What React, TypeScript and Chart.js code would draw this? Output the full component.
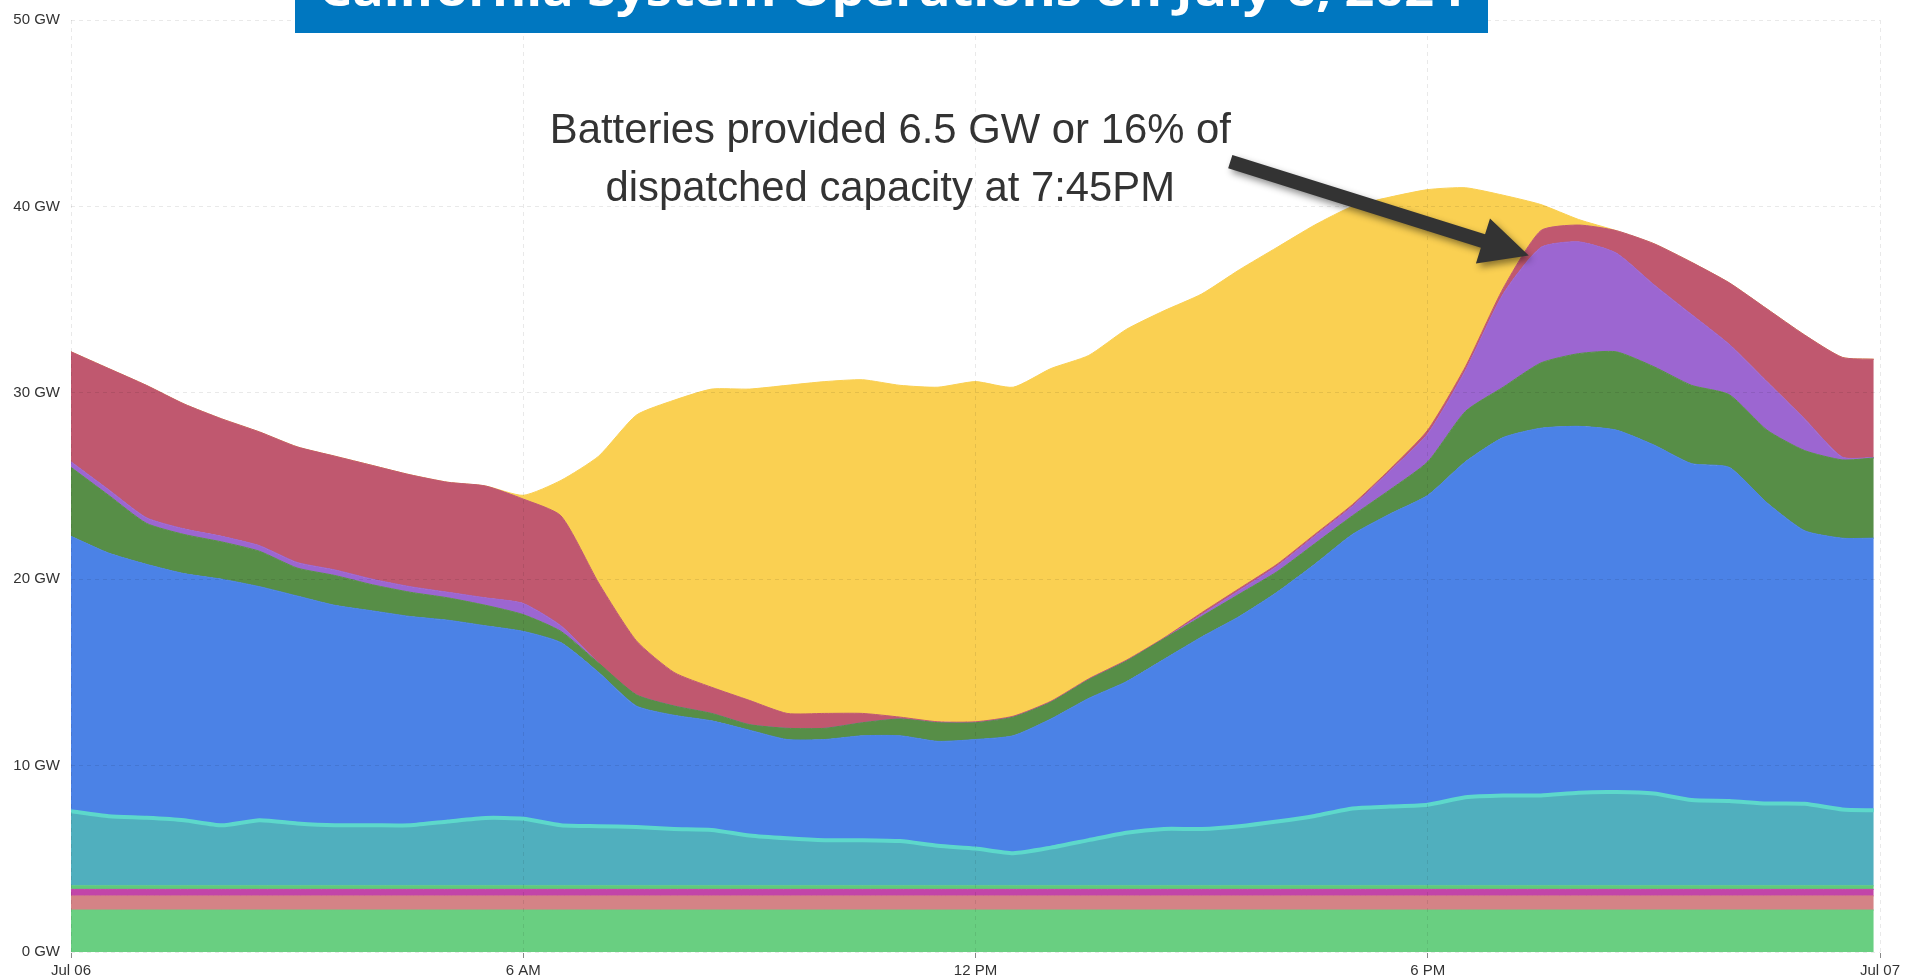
import React, { useEffect, useRef } from "react";
import { Chart, registerables } from "chart.js";

Chart.register(...registerables);

// Hours after midnight, Jul 06 (last sample 23:55)
const TIMES = [
  0, 0.5, 1, 1.5, 2, 2.5, 3, 3.5, 4, 4.5, 5, 5.5, 6, 6.5, 7, 7.5, 8, 8.5, 9, 9.5,
  10, 10.5, 11, 11.5, 12, 12.5, 13, 13.5, 14, 14.5, 15, 15.5, 16, 16.5, 17, 17.5,
  18, 18.5, 19, 19.5, 20, 20.5, 21, 21.5, 22, 22.5, 23, 23.5, 23.917,
];

const X_TICK_LABELS = ["Jul 06", "6 AM", "12 PM", "6 PM", "Jul 07"];
const Y_TICKS = [0, 10, 20, 30, 40, 50];

// GW
const nuclear = [
  2.25, 2.25, 2.25, 2.25, 2.25, 2.25, 2.25, 2.25, 2.25, 2.25, 2.25, 2.25, 2.25, 2.25, 2.25, 2.25, 2.25,
  2.25, 2.25, 2.25, 2.25, 2.25, 2.25, 2.25, 2.25, 2.25, 2.25, 2.25, 2.25, 2.25, 2.25, 2.25, 2.25, 2.25,
  2.25, 2.25, 2.25, 2.25, 2.25, 2.25, 2.25, 2.25, 2.25, 2.25, 2.25, 2.25, 2.25, 2.25, 2.25,
];
const geothermal = [
  0.76, 0.76, 0.76, 0.76, 0.76, 0.76, 0.76, 0.76, 0.76, 0.76, 0.76, 0.76, 0.76, 0.76, 0.76, 0.76, 0.76,
  0.76, 0.76, 0.76, 0.76, 0.76, 0.76, 0.76, 0.76, 0.76, 0.76, 0.76, 0.76, 0.76, 0.76, 0.76, 0.76, 0.76,
  0.76, 0.76, 0.76, 0.76, 0.76, 0.76, 0.76, 0.76, 0.76, 0.76, 0.76, 0.76, 0.76, 0.76, 0.76,
];
const biomass = [
  0.35, 0.35, 0.35, 0.35, 0.35, 0.35, 0.35, 0.35, 0.35, 0.35, 0.35, 0.35, 0.35, 0.35, 0.35, 0.35, 0.35,
  0.35, 0.35, 0.35, 0.35, 0.35, 0.35, 0.35, 0.35, 0.35, 0.35, 0.35, 0.35, 0.35, 0.35, 0.35, 0.35, 0.35,
  0.35, 0.35, 0.35, 0.35, 0.35, 0.35, 0.35, 0.35, 0.35, 0.35, 0.35, 0.35, 0.35, 0.35, 0.35,
];
const biogas = [
  0.19, 0.19, 0.19, 0.19, 0.19, 0.19, 0.19, 0.19, 0.19, 0.19, 0.19, 0.19, 0.19, 0.19, 0.19, 0.19, 0.19,
  0.19, 0.19, 0.19, 0.19, 0.19, 0.19, 0.19, 0.19, 0.19, 0.19, 0.19, 0.19, 0.19, 0.19, 0.19, 0.19, 0.19,
  0.19, 0.19, 0.19, 0.19, 0.19, 0.19, 0.19, 0.19, 0.19, 0.19, 0.19, 0.19, 0.19, 0.19, 0.19,
];
const hydro = [
  4.0, 3.73, 3.65, 3.52, 3.25, 3.52, 3.35, 3.25, 3.25, 3.25, 3.45, 3.64, 3.6, 3.25, 3.2, 3.15, 3.05,
  3.0, 2.7, 2.55, 2.45, 2.45, 2.4, 2.15, 2.0, 1.75, 2.05, 2.45, 2.85, 3.05, 3.05, 3.2, 3.45, 3.75,
  4.15, 4.25, 4.35, 4.75, 4.85, 4.85, 5.0, 5.03, 4.95, 4.6, 4.55, 4.42, 4.4, 4.1, 4.05,
];
const gas = [
  14.75, 14.12, 13.6, 13.23, 13.2, 12.53, 12.2, 11.8, 11.5, 11.2, 10.8, 10.31, 10.05, 9.8, 8.25, 6.5,
  6.1, 5.85, 5.65, 5.3, 5.4, 5.6, 5.65, 5.6, 5.85, 6.3, 6.9, 7.6, 8.1, 9.1, 10.3, 11.25, 12.3, 13.5,
  14.7, 15.7, 16.6, 18.0, 19.2, 19.7, 19.65, 19.42, 18.7, 18.05, 17.9, 16.13, 14.65, 14.55, 14.6,
];
const wind = [
  3.7, 3.1, 2.2, 2.1, 2.0, 1.9, 1.5, 1.6, 1.4, 1.3, 1.2, 1.1, 0.9, 0.6, 0.5, 0.6, 0.5, 0.4, 0.3, 0.6,
  0.6, 0.7, 0.9, 1.0, 0.9, 1.0, 0.9, 1.0, 1.1, 1.1, 1.1, 1.2, 1.1, 1.1, 1.0, 1.3, 1.8, 2.7, 2.7, 3.5,
  3.9, 4.2, 4.2, 4.2, 3.9, 3.9, 4.3, 4.2, 4.3,
];
const batteries = [
  0.3, 0.3, 0.3, 0.3, 0.3, 0.3, 0.3, 0.3, 0.3, 0.3, 0.3, 0.4, 0.6, 0.3, 0, 0, 0, 0, 0, 0, 0, 0, 0, 0,
  0, 0, 0, 0, 0, 0, 0.1, 0.2, 0.3, 0.4, 0.5, 1.0, 1.5, 2.2, 5.0, 6.2, 6.0, 5.3, 4.4, 3.8, 2.7, 2.6,
  1.7, 0.15, 0.03,
];
const imports = [
  5.9, 6.5, 7.1, 6.7, 6.3, 6.1, 6.2, 6.1, 6.1, 6.0, 5.9, 6.0, 5.6, 5.9, 4.3, 2.9, 1.8, 1.4, 1.3, 0.8,
  0.8, 0.5, 0.1, 0.05, 0.05, 0.05, 0.05, 0.05, 0.05, 0.05, 0.1, 0.1, 0.1, 0.1, 0.1, 0.1, 0.2, 0.2,
  0.3, 0.9, 0.9, 1.2, 2.2, 2.8, 3.3, 3.9, 4.5, 5.35, 5.27,
];
const solar = [
  0, 0, 0, 0, 0, 0, 0, 0, 0, 0, 0, 0, 0.2, 1.9, 6.8, 12.1, 14.6, 16.0, 16.7, 17.6, 17.8, 17.9, 17.8,
  17.95, 18.25, 17.65, 17.85, 17.35, 17.75, 17.55, 17.1, 17.1, 17.0, 16.6, 16.0, 14.6, 12.9, 9.6, 5.0,
  1.4, 0.3, 0, 0, 0, 0, 0, 0, 0, 0,
];

const TITLE = "California System Operations on July 6, 2024";
const NOTE_LINES = ["Batteries provided 6.5 GW or 16% of", "dispatched capacity at 7:45PM"];
// annotation anchors in chart units (hour, GW)
const NOTE_CENTER_X = 10.87;
const NOTE_BASELINES_Y = [43.39, 40.27];
const ARROW_FROM = { x: 15.38, y: 42.4 };
const ARROW_TO = { x: 19.34, y: 37.37 };

const SERIES = [
  { label: "Nuclear", values: nuclear, color: "#69CF81", line: "#69CF81", width: 1 },
  { label: "Geothermal", values: geothermal, color: "#D48386", line: "#D48386", width: 1 },
  { label: "Biomass", values: biomass, color: "#C245A8", line: "#C245A8", width: 1 },
  { label: "Biogas", values: biogas, color: "#5FCB7A", line: "#5FCB7A", width: 1 },
  { label: "Hydro", values: hydro, color: "#50AFBE", line: "#5DD8CB", width: 4 },
  { label: "Natural gas", values: gas, color: "#4B82E6", line: "#4B82E6", width: 1 },
  { label: "Wind", values: wind, color: "#578E47", line: "#578E47", width: 1 },
  { label: "Batteries", values: batteries, color: "#9C66D1", line: "#9C66D1", width: 1 },
  { label: "Imports", values: imports, color: "#C0586F", line: "#C0586F", width: 1 },
  { label: "Solar", values: solar, color: "#FAD052", line: "#FAD052", width: 1 },
];

const overlayPlugin = {
  id: "overlay",
  beforeDraw(chart: any) {
    const ctx: CanvasRenderingContext2D = chart.ctx;
    ctx.save();
    ctx.fillStyle = "#ffffff";
    ctx.fillRect(0, 0, chart.width, chart.height);
    ctx.restore();
  },
  afterDraw(chart: any) {
    const ctx: CanvasRenderingContext2D = chart.ctx;
    const xs = chart.scales.x;
    const ys = chart.scales.y;

    // keep the strip above the plot clean
    ctx.save();
    ctx.fillStyle = "#ffffff";
    ctx.fillRect(0, 0, chart.width, 3);
    ctx.restore();

    // Title banner (partly cut off at the top)
    ctx.save();
    const bx = 295, bw = 1193, bh = 33;
    ctx.fillStyle = "#0077C0";
    ctx.fillRect(bx, 0, bw, bh);
    ctx.beginPath();
    ctx.rect(bx, 0, bw, bh);
    ctx.clip();
    ctx.font = '700 44px "Open Sans", "Liberation Sans", sans-serif';
    const tw = ctx.measureText(TITLE).width;
    const tsx = 1145 / tw;
    ctx.translate(bx + bw / 2, 0);
    ctx.scale(tsx, 1);
    ctx.fillStyle = "#ffffff";
    ctx.textAlign = "center";
    ctx.textBaseline = "alphabetic";
    ctx.fillText(TITLE, 0, 6);
    ctx.restore();

    // Annotation text
    ctx.save();
    ctx.font = '43px "Liberation Sans Narrow", "Liberation Sans", sans-serif';
    ctx.fillStyle = "#333333";
    ctx.textAlign = "center";
    ctx.textBaseline = "alphabetic";
    const w1 = ctx.measureText(NOTE_LINES[0]).width;
    const sx = 681 / w1;
    const cx = xs.getPixelForValue(NOTE_CENTER_X);
    ctx.translate(cx, 0);
    ctx.scale(sx, 1);
    NOTE_LINES.forEach((ln, i) => {
      ctx.fillText(ln, 0, ys.getPixelForValue(NOTE_BASELINES_Y[i]));
    });
    ctx.restore();

    // Arrow
    const p0x = xs.getPixelForValue(ARROW_FROM.x);
    const p0y = ys.getPixelForValue(ARROW_FROM.y);
    const p1x = xs.getPixelForValue(ARROW_TO.x);
    const p1y = ys.getPixelForValue(ARROW_TO.y);
    const ang = Math.atan2(p1y - p0y, p1x - p0x);
    const len = Math.hypot(p1x - p0x, p1y - p0y);
    const hl = 48, hw = 47, sw = 14;
    ctx.save();
    ctx.shadowColor = "rgba(0,0,0,0.45)";
    ctx.shadowBlur = 7;
    ctx.shadowOffsetX = 3;
    ctx.shadowOffsetY = 4;
    ctx.translate(p0x, p0y);
    ctx.rotate(ang);
    ctx.beginPath();
    ctx.moveTo(0, -sw / 2);
    ctx.lineTo(len - hl, -sw / 2);
    ctx.lineTo(len - hl, -hw / 2);
    ctx.lineTo(len, 0);
    ctx.lineTo(len - hl, hw / 2);
    ctx.lineTo(len - hl, sw / 2);
    ctx.lineTo(0, sw / 2);
    ctx.closePath();
    ctx.fillStyle = "#333333";
    ctx.fill();
    ctx.restore();
  },
};

export default function App() {
  const ref = useRef<HTMLCanvasElement>(null);

  useEffect(() => {
    document.body.style.margin = "0";
    if (!ref.current) return;
    const datasets = SERIES.map((s, i) => ({
      label: s.label,
      data: TIMES.map((t, k) => ({ x: t, y: s.values[k] })),
      backgroundColor: s.color,
      borderColor: s.line,
      borderWidth: s.width,
      fill: i === 0 ? "origin" : "-1",
      pointRadius: 0,
      pointHoverRadius: 0,
      tension: 0.2,
    }));

    const chart = new Chart(ref.current, {
      type: "line",
      data: { datasets },
      options: {
        animation: false,
        responsive: false,
        devicePixelRatio: 1,
        events: [],
        layout: { padding: { top: 18, right: 31, left: 0, bottom: 0 } },
        plugins: {
          legend: { display: false },
          tooltip: { enabled: false },
          title: { display: false },
        },
        scales: {
          x: {
            type: "linear",
            min: 0,
            max: 24,
            afterBuildTicks: (scale: any) => {
              scale.ticks = X_TICK_LABELS.map((_, i) => ({ value: i * 6 }));
            },
            afterFit: (scale: any) => {
              scale.height = 26;
            },
            ticks: {
              autoSkip: false,
              maxRotation: 0,
              padding: 4,
              color: "#333333",
              font: { family: "Liberation Sans, Arial, sans-serif", size: 15 },
              callback: (v: any) => X_TICK_LABELS[Math.round(Number(v) / 6)],
            },
            grid: {
              color: "rgba(0,0,0,0.085)",
              drawTicks: true,
              tickLength: 6,
              tickColor: "#888888",
              z: 1,
            },
            border: { display: true, color: "#7a7a7a", width: 1, dash: [4, 4] },
          },
          y: {
            type: "linear",
            stacked: true,
            min: 0,
            max: 50,
            afterBuildTicks: (scale: any) => {
              scale.ticks = Y_TICKS.map((v) => ({ value: v }));
            },
            afterFit: (scale: any) => {
              scale.width = 71;
            },
            ticks: {
              padding: 11,
              color: "#333333",
              font: { family: "Liberation Sans, Arial, sans-serif", size: 15 },
              callback: (v: any) => `${v} GW`,
            },
            grid: {
              color: "rgba(0,0,0,0.085)",
              drawTicks: false,
              z: 1,
            },
            border: { display: false, dash: [4, 4] },
          },
        },
      },
      plugins: [overlayPlugin],
    } as any);

    return () => chart.destroy();
  }, []);

  return (
    <div
      style={{
        position: "absolute",
        left: 0,
        top: 0,
        width: 1911,
        height: 978,
        background: "#ffffff",
      }}
    >
      <canvas
        ref={ref}
        width={1911}
        height={978}
        style={{ display: "block", width: 1911, height: 978 }}
      />
    </div>
  );
}
